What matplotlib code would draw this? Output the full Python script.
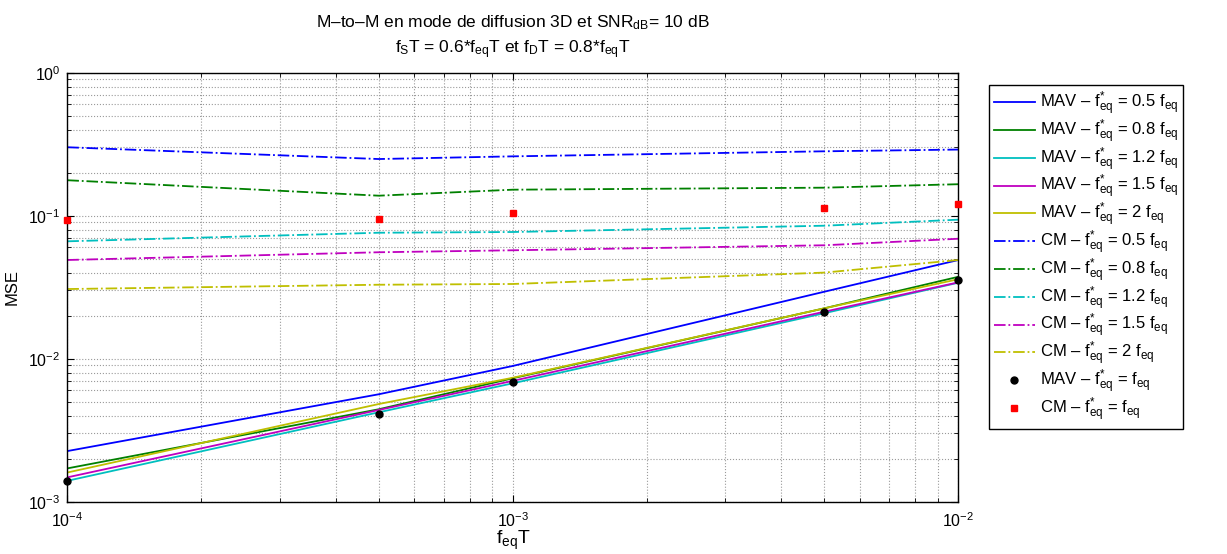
import matplotlib
matplotlib.use("Agg")
import matplotlib.pyplot as plt

plt.rcParams['font.family'] = ['Liberation Sans', 'DejaVu Sans']
plt.rcParams['mathtext.fontset'] = 'custom'
plt.rcParams['mathtext.rm'] = 'Liberation Sans'
plt.rcParams['mathtext.it'] = 'Liberation Sans:italic'
plt.rcParams['mathtext.bf'] = 'Liberation Sans:bold'
plt.rcParams['mathtext.default'] = 'regular'

# ---- data ----
x = [1e-4, 5e-4, 1e-3, 5e-3, 1e-2]
ratios = ['0.5', '0.8', '1.2', '1.5', '2']

mav_05 = [0.00226, 0.00564, 0.0089, 0.0294, 0.049]
mav_08 = [0.00171, 0.00443, 0.0073, 0.0225, 0.0374]
mav_12 = [0.00140, 0.00422, 0.00673, 0.0208, 0.0340]
mav_15 = [0.00148, 0.00438, 0.0070, 0.0213, 0.0342]
mav_20 = [0.00160, 0.00482, 0.00736, 0.0225, 0.0360]

cm_05 = [0.301, 0.249, 0.260, 0.282, 0.290]
cm_08 = [0.177, 0.138, 0.152, 0.157, 0.166]
cm_12 = [0.0662, 0.0760, 0.0769, 0.0851, 0.0938]
cm_15 = [0.0490, 0.0555, 0.0573, 0.0621, 0.0690]
cm_20 = [0.0307, 0.0329, 0.0333, 0.0400, 0.0490]

mav_eq = [0.00140, 0.00412, 0.00687, 0.0212, 0.0353]
cm_eq = [0.0929, 0.0944, 0.104, 0.1127, 0.1213]

colors = [(0, 0, 1), (0, 0.5, 0), (0, 0.75, 0.75), (0.75, 0, 0.75), (0.75, 0.75, 0)]
mav_series = [mav_05, mav_08, mav_12, mav_15, mav_20]
cm_series = [cm_05, cm_08, cm_12, cm_15, cm_20]

fig = plt.figure(figsize=(12.27, 5.54), dpi=100)
ax = fig.add_axes([0.0549, 0.0944, 0.7262, 0.7744])

handles = []
for ys, c, r in zip(mav_series, colors, ratios):
    h, = ax.plot(x, ys, '-', color=c, lw=1.3,
                 label='MAV – f$^{*}_{eq}$ = %s f$_{eq}$' % r)
    handles.append(h)
for ys, c, r in zip(cm_series, colors, ratios):
    h, = ax.plot(x, ys, '-.', color=c, lw=1.3,
                 label='CM – f$^{*}_{eq}$ = %s f$_{eq}$' % r)
    handles.append(h)
h, = ax.plot(x, mav_eq, 'o', color='k', ms=5, clip_on=False, zorder=5,
             label='MAV – f$^{*}_{eq}$ = f$_{eq}$')
handles.append(h)
h, = ax.plot(x, cm_eq, 's', color='red', mec='red', ms=4, clip_on=False, zorder=5,
             label='CM – f$^{*}_{eq}$ = f$_{eq}$')
handles.append(h)

ax.set_xscale('log')
ax.set_yscale('log')
ax.set_xlim(1e-4, 1e-2)
ax.set_ylim(1e-3, 1e0)

ax.grid(True, which='both', linestyle=':', color='#9a9a9a', lw=0.8)
ax.tick_params(which='both', direction='in', top=True, right=True, labelsize=11.5)
ax.tick_params(axis='x', which='major', pad=7)
ax.tick_params(axis='y', which='major', pad=5)
ax.tick_params(which='major', length=5)
ax.tick_params(which='minor', length=3)
for s in ax.spines.values():
    s.set_linewidth(1.0)

ax.set_title('M–to–M en mode de diffusion 3D et SNR$_{dB}$= 10 dB\n'
             'f$_{S}$T = 0.6*f$_{eq}$T et f$_{D}$T = 0.8*f$_{eq}$T',
             fontsize=12.5, pad=14, linespacing=1.4)
ax.set_xlabel('f$_{eq}$T', fontsize=14, labelpad=-1)
ax.set_ylabel('MSE', fontsize=12, labelpad=6)

leg = fig.legend(handles=handles, loc='upper left',
                 bbox_to_anchor=(0.806, 0.847), fontsize=12,
                 fancybox=False, framealpha=1, edgecolor='k',
                 handlelength=2.45, handletextpad=0.3, labelspacing=-0.03,
                 borderpad=0.3, borderaxespad=0)
leg.get_frame().set_linewidth(1.0)

fig.savefig('out.png', dpi=100)
